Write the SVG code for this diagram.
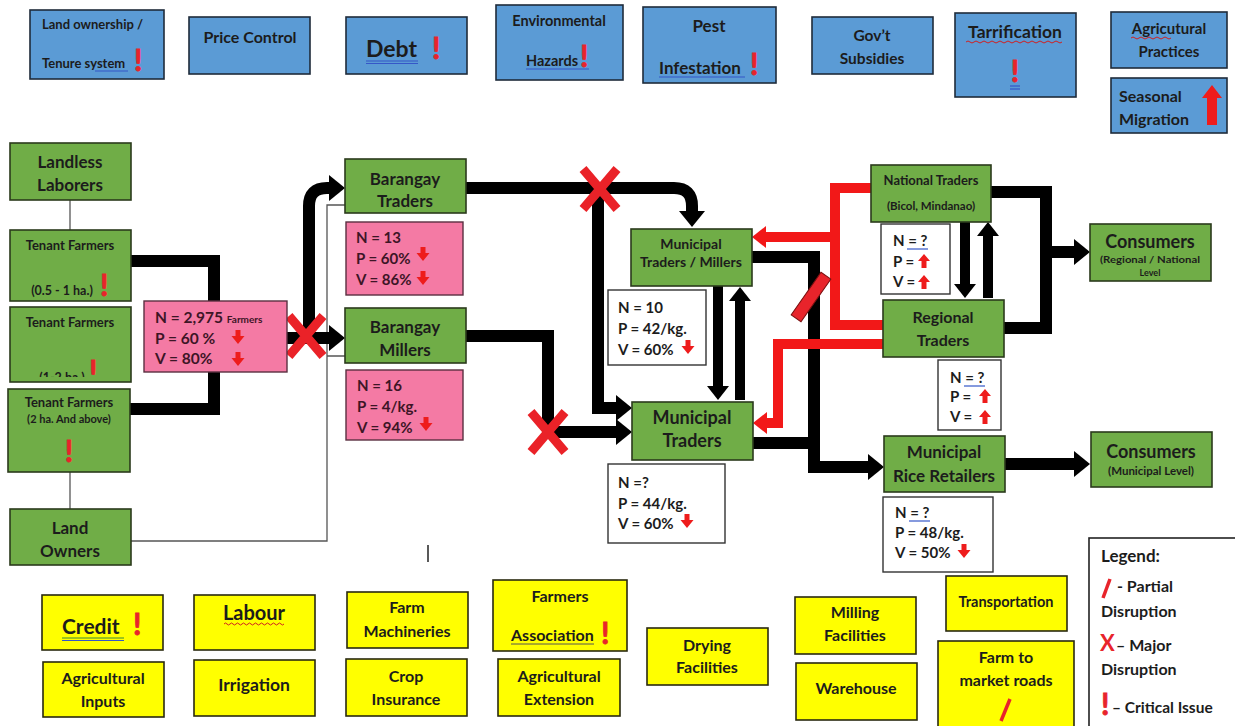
<svg xmlns="http://www.w3.org/2000/svg" width="1235" height="726" viewBox="0 0 1235 726">
<style>
text{font-family:Lato,"Liberation Sans","DejaVu Sans",sans-serif;font-weight:bold;fill:#1c1c1c}
.blue{fill:#5b9bd5;stroke:#1f2b3a;stroke-width:1.6}
.green{fill:#70ad47;stroke:#2b3a1c;stroke-width:1.6}
.pink{fill:#f47aa4;stroke:#5a3040;stroke-width:1.4}
.white{fill:#fff;stroke:#333;stroke-width:1.4}
.yel{fill:#ffff00;stroke:#2a2a10;stroke-width:1.6}
.c{text-anchor:middle}
.g{font-size:17px}
.y{font-size:16px}
.b{font-size:16px}
.t15{font-size:15px}
.t13{font-size:13px}
.pk{fill:#3d1526}
.bang{fill:#e8242b;stroke:#e8242b;stroke-width:0.8;font-size:30px}
.thick{fill:none;stroke:#000;stroke-width:12}
.mid{fill:none;stroke:#000;stroke-width:10}
.red{fill:none;stroke:#f21818;stroke-width:10}
.thin{fill:none;stroke:#555;stroke-width:1.3}
.xx{fill:none;stroke:#ea2228;stroke-width:9}
.arr{fill:#ee1c1c}
.ul{stroke:#3557c8;stroke-width:1.2}
.wavy{fill:none;stroke:#d02020;stroke-width:1}
</style>
<defs>
<marker id="ah" markerUnits="userSpaceOnUse" markerWidth="16" markerHeight="26" refX="0" refY="13" orient="auto"><path d="M0,0 L16,13 L0,26 Z" fill="#000"/></marker>
<marker id="ahs" markerUnits="userSpaceOnUse" markerWidth="14" markerHeight="22" refX="0" refY="11" orient="auto"><path d="M0,0 L14,11 L0,22 Z" fill="#000"/></marker>
<marker id="ahr" markerUnits="userSpaceOnUse" markerWidth="14" markerHeight="22" refX="0" refY="11" orient="auto"><path d="M0,0 L14,11 L0,22 Z" fill="#f21818"/></marker>
<path id="dn" d="M-2.5,-7 h5 v6 h4 l-6.5,8 l-6.5,-8 h4 z"/>
<path id="up" d="M0,-7 l6,7 h-3.5 v7 h-5 v-7 h-3.5 z"/>
<path id="x" d="M-17,-20 L17,20 M17,-20 L-17,20"/>
<clipPath id="clipTF2"><rect x="10" y="307" width="121" height="70"/></clipPath>
</defs>

<!-- top blue factors -->
<g id="land-ownership"><rect class="blue" x="30" y="10" width="134" height="69"/><text x="42" y="29" font-size="13">Land ownership /</text><text x="42" y="68" font-size="13">Tenure system</text><line class="ul" x1="95" y1="71" x2="128" y2="71"/><text class="bang" x="134" y="71">!</text></g>
<g id="price-control"><rect class="blue" x="189" y="17" width="121" height="57"/><text class="b c" x="250" y="43">Price Control</text></g>
<g id="debt"><rect class="blue" x="346" y="17" width="121" height="57"/><text x="366" y="57" font-size="23">Debt</text><line class="ul" x1="366" y1="61" x2="418" y2="61"/><line class="ul" x1="366" y1="63.5" x2="418" y2="63.5"/><text class="bang" x="432" y="59">!</text></g>
<g id="environmental-hazards"><rect class="blue" x="496" y="5" width="127" height="75"/><text class="c" x="559" y="26" font-size="14.5">Environmental</text><text x="526" y="66" font-size="14.5">Hazards</text><line class="ul" x1="526" y1="69" x2="589" y2="69"/><text class="bang" x="580" y="67" font-size="28">!</text></g>
<g id="pest-infestation"><rect class="blue" x="643" y="7" width="133" height="76"/><text class="c" x="709" y="32" font-size="17">Pest</text><text x="659" y="74" font-size="17">Infestation</text><line class="ul" x1="659" y1="77" x2="745" y2="77"/><text class="bang" x="750" y="75" font-size="32">!</text></g>
<g id="govt-subsidies"><rect class="blue" x="812" y="17" width="121" height="57"/><text class="c" x="872" y="41" font-size="15.5">Gov’t</text><text class="c" x="872" y="64" font-size="15.5">Subsidies</text></g>
<g id="tarrification"><rect class="blue" x="955" y="13" width="121" height="84"/><text class="c" x="1015" y="38" font-size="17.5">Tarrification</text><path class="wavy" d="M966,42 q2,-2 4,0 t4,0 t4,0 t4,0 t4,0 t4,0 t4,0 t4,0 t4,0 t4,0 t4,0 t4,0 t4,0 t4,0 t4,0 t4,0 t4,0 t4,0 t4,0 t4,0 t4,0 t4,0 t4,0 t4,0"/><text class="bang c" x="1015" y="82" font-size="34">!</text><line class="ul" x1="1010" y1="86" x2="1020" y2="86"/><line class="ul" x1="1010" y1="89" x2="1020" y2="89"/></g>
<g id="agricultural-practices"><rect class="blue" x="1111" y="12" width="116" height="56"/><text class="c" x="1169" y="34" font-size="15">Agricutural</text><path class="wavy" d="M1131,38 q2,-2 4,0 t4,0 t4,0 t4,0 t4,0 t4,0 t4,0 t4,0 t4,0 t4,0"/><text class="c" x="1169" y="57" font-size="15">Practices</text></g>
<g id="seasonal-migration"><rect class="blue" x="1111" y="78" width="116" height="55"/><text x="1119" y="102" font-size="16">Seasonal</text><text x="1119" y="125" font-size="16">Migration</text><path class="arr" d="M1212,85 l10,13 h-5 v27 h-10 v-27 h-5 z"/></g>

<!-- connectors -->
<g id="connectors">
<path class="thin" d="M70,200 V230"/>
<path class="thin" d="M70,472 V509"/>
<path class="thin" d="M131,541 H327 V205 H345 M327,356 H345"/>
<path class="thick" d="M131,261 H214 V301"/>
<path class="thick" d="M130,409 H214 V372"/>
<path class="thick" d="M287,338 H329" marker-end="url(#ah)"/>
<path class="thick" d="M309,338 V206 Q309,188 327,188 H329" marker-end="url(#ah)"/>
<path class="thick" d="M466,188 H674 Q692,188 692,206 V211" marker-end="url(#ah)"/>
<path class="thick" d="M598,190 V408 H616" marker-end="url(#ah)"/>
<path class="thick" d="M466,336 H548 V432 H616" marker-end="url(#ah)"/>
<path class="mid" d="M718,286 V386" marker-end="url(#ahs)"/>
<path class="mid" d="M740,400 V301" marker-end="url(#ahs)"/>
<path class="thick" d="M752,257 H814 V467 H868" marker-end="url(#ah)"/>
<path class="thick" d="M753,443 H814"/>
<path class="mid" d="M965,222 V284" marker-end="url(#ahs)"/>
<path class="mid" d="M988,298 V236" marker-end="url(#ahs)"/>
<path class="thick" d="M991,192 H1046 V328 H1004"/>
<path class="thick" d="M1046,252 H1074" marker-end="url(#ah)"/>
<path class="thick" d="M1005,464 H1074" marker-end="url(#ah)"/>
<path class="red" d="M871,188 H835 V325 H883"/>
<path class="red" d="M835,237 H766" marker-end="url(#ahr)"/>
<path class="red" d="M883,344 H778 V423 H767" marker-end="url(#ahr)"/>
<rect x="805" y="271" width="12" height="52" fill="#e8242b" stroke="#7a1010" stroke-width="1" transform="rotate(35 811 297)"/>
<use href="#x" class="xx" transform="translate(306,336)"/>
<use href="#x" class="xx" transform="translate(600,189)"/>
<use href="#x" class="xx" transform="translate(548,432)"/>
</g>

<!-- farmers -->
<g id="landless-laborers"><rect class="green" x="10" y="143" width="121" height="57"/><text class="g c" x="70" y="168">Landless</text><text class="g c" x="70" y="191">Laborers</text></g>
<g id="tenant-farmers-1"><rect class="green" x="10" y="230" width="121" height="71"/><text class="t13 c" x="70" y="250">Tenant Farmers</text><text class="c" x="62" y="295" font-size="12.5">(0.5 - 1 ha.)</text><text class="bang" x="100" y="296">!</text></g>
<g id="tenant-farmers-2"><rect class="green" x="10" y="307" width="121" height="75"/><text class="t13 c" x="70" y="327">Tenant Farmers</text><g clip-path="url(#clipTF2)"><text class="c" x="62" y="382" font-size="12.5">(1-2 ha.)</text><text class="bang" x="89" y="382">!</text></g></g>
<g id="tenant-farmers-3"><rect class="green" x="8" y="389" width="122" height="83"/><text class="t13 c" x="69" y="407">Tenant Farmers</text><text class="c" x="69" y="423" font-size="11">(2 ha. And above)</text><text class="bang c" x="69" y="462">!</text></g>
<g id="land-owners"><rect class="green" x="10" y="509" width="121" height="56"/><text class="g c" x="70" y="534">Land</text><text class="g c" x="70" y="557">Owners</text></g>
<g id="farmers-stats"><rect class="pink" x="144" y="301" width="143" height="71"/><text class="pk" x="155" y="323" font-size="15.5">N = 2,975 <tspan font-size="10">Farmers</tspan></text><text class="pk" x="155" y="344" font-size="15.5">P = 60 %</text><text class="pk" x="155" y="364" font-size="15.5">V = 80%</text><use href="#dn" class="arr" x="238" y="337"/><use href="#dn" class="arr" x="238" y="359"/></g>

<!-- barangay -->
<g id="barangay-traders"><rect class="green" x="345" y="159" width="121" height="54"/><text class="g c" x="405" y="185">Barangay</text><text class="g c" x="405" y="207">Traders</text></g>
<g id="barangay-traders-stats"><rect class="pink" x="346" y="222" width="117" height="73"/><text class="t15 pk" x="356" y="243">N = 13</text><text class="t15 pk" x="356" y="264">P = 60%</text><text class="t15 pk" x="356" y="285">V = 86%</text><use href="#dn" class="arr" x="423" y="254"/><use href="#dn" class="arr" x="423" y="278"/></g>
<g id="barangay-millers"><rect class="green" x="345" y="308" width="121" height="55"/><text class="g c" x="405" y="333">Barangay</text><text class="g c" x="405" y="356">Millers</text></g>
<g id="barangay-millers-stats"><rect class="pink" x="346" y="370" width="117" height="70"/><text class="t15 pk" x="357" y="391">N = 16</text><text class="t15 pk" x="357" y="412">P = 4/kg.</text><text class="t15 pk" x="357" y="433">V = 94%</text><use href="#dn" class="arr" x="426" y="424"/></g>

<!-- municipal -->
<g id="municipal-traders-millers"><rect class="green" x="631" y="229" width="121" height="57"/><text class="c" x="691" y="249" font-size="14">Municipal</text><text class="c" x="691" y="267" font-size="14">Traders / Millers</text></g>
<g id="mtm-stats"><rect class="white" x="608" y="290" width="98" height="75"/><text class="t15" x="618" y="313">N = 10</text><text class="t15" x="618" y="334">P = 42/kg.</text><text class="t15" x="618" y="355">V = 60%</text><use href="#dn" class="arr" x="688" y="347"/></g>
<g id="municipal-traders"><rect class="green" x="632" y="402" width="121" height="58"/><text class="c" x="692" y="424" font-size="18">Municipal</text><text class="c" x="692" y="447" font-size="18">Traders</text></g>
<g id="mt-stats"><rect class="white" x="608" y="464" width="117" height="79"/><text class="t15" x="618" y="488">N =?</text><text class="t15" x="618" y="509">P = 44/kg.</text><text class="t15" x="618" y="529">V = 60%</text><use href="#dn" class="arr" x="687" y="521"/></g>

<!-- national / regional -->
<g id="national-traders"><rect class="green" x="871" y="165" width="120" height="57"/><text class="t13 c" x="931" y="185">National Traders</text><text class="c" x="931" y="210" font-size="11.5">(Bicol, Mindanao)</text></g>
<g id="nt-stats"><rect class="white" x="881" y="224" width="69" height="70"/><text class="t15" x="893" y="246">N = ?</text><line class="ul" x1="907" y1="249" x2="928" y2="249"/><text class="t15" x="893" y="267">P =</text><text class="t15" x="893" y="287">V =</text><use href="#up" class="arr" x="924" y="261"/><use href="#up" class="arr" x="924" y="282"/></g>
<g id="regional-traders"><rect class="green" x="883" y="300" width="121" height="57"/><text class="c" x="943" y="323" font-size="16">Regional</text><text class="c" x="943" y="346" font-size="16">Traders</text></g>
<g id="rt-stats"><rect class="white" x="938" y="360" width="63" height="70"/><text class="t15" x="950" y="383">N = ?</text><line class="ul" x1="964" y1="386" x2="985" y2="386"/><text class="t15" x="950" y="402">P =</text><text class="t15" x="950" y="422">V =</text><use href="#up" class="arr" x="985" y="396"/><use href="#up" class="arr" x="985" y="417"/></g>
<g id="consumers-regional"><rect class="green" x="1090" y="224" width="121" height="57"/><text class="c" x="1150" y="248" font-size="18">Consumers</text><text class="c" x="1150" y="263" font-size="9" textLength="100" lengthAdjust="spacingAndGlyphs">(Regional / National</text><text class="c" x="1150" y="276" font-size="9">Level</text></g>
<g id="municipal-rice-retailers"><rect class="green" x="884" y="436" width="121" height="56"/><text class="g c" x="944" y="458">Municipal</text><text class="g c" x="944" y="482">Rice Retailers</text></g>
<g id="mrr-stats"><rect class="white" x="883" y="497" width="110" height="75"/><text class="t15" x="895" y="518">N = ?</text><line class="ul" x1="909" y1="521" x2="930" y2="521"/><text class="t15" x="895" y="538">P = 48/kg.</text><text class="t15" x="895" y="558">V = 50%</text><use href="#dn" class="arr" x="964" y="551"/></g>
<g id="consumers-municipal"><rect class="green" x="1091" y="432" width="121" height="55"/><text class="c" x="1151" y="458" font-size="18">Consumers</text><text class="c" x="1151" y="475" font-size="11.5">(Municipal Level)</text></g>

<line x1="428" y1="545" x2="428" y2="562" stroke="#222" stroke-width="1.5"/>

<!-- bottom yellow factors -->
<g id="credit"><rect class="yel" x="42" y="595" width="121" height="55"/><text x="62" y="634" font-size="21">Credit</text><line x1="62" y1="638" x2="124" y2="638" stroke="#3a8a3a" stroke-width="1.2"/><line x1="62" y1="640.5" x2="124" y2="640.5" stroke="#3557c8" stroke-width="1.2"/><text class="bang" x="133" y="635">!</text></g>
<g id="agricultural-inputs"><rect class="yel" x="43" y="662" width="121" height="55"/><text class="y c" x="103" y="684">Agricultural</text><text class="y c" x="103" y="707">Inputs</text></g>
<g id="labour"><rect class="yel" x="194" y="595" width="121" height="55"/><text class="c" x="254" y="620" font-size="20">Labour</text><path class="wavy" d="M224,624 q1.5,-2 3,0 t3,0 t3,0 t3,0 t3,0 t3,0 t3,0 t3,0 t3,0 t3,0 t3,0 t3,0 t3,0 t3,0 t3,0 t3,0 t3,0 t3,0 t3,0 t3,0"/></g>
<g id="irrigation"><rect class="yel" x="194" y="660" width="121" height="56"/><text class="c" x="254" y="691" font-size="17.5">Irrigation</text></g>
<g id="farm-machineries"><rect class="yel" x="347" y="592" width="121" height="56"/><text class="y c" x="407" y="613">Farm</text><text class="y c" x="407" y="637">Machineries</text></g>
<g id="crop-insurance"><rect class="yel" x="346" y="659" width="121" height="57"/><text class="y c" x="406" y="682">Crop</text><text class="y c" x="406" y="705">Insurance</text></g>
<g id="farmers-association"><rect class="yel" x="493" y="580" width="134" height="71"/><text class="y c" x="560" y="602">Farmers</text><text class="y" x="511" y="641">Association</text><line x1="511" y1="644" x2="594" y2="644" stroke="#555" stroke-width="1"/><text class="bang" x="601" y="644">!</text></g>
<g id="agricultural-extension"><rect class="yel" x="498" y="659" width="122" height="57"/><text class="y c" x="559" y="682">Agricultural</text><text class="y c" x="559" y="705">Extension</text></g>
<g id="drying-facilities"><rect class="yel" x="647" y="628" width="121" height="57"/><text class="y c" x="707" y="651">Drying</text><text class="y c" x="707" y="673">Facilities</text></g>
<g id="milling-facilities"><rect class="yel" x="795" y="597" width="121" height="57"/><text class="y c" x="855" y="618">Milling</text><text class="y c" x="855" y="641">Facilities</text></g>
<g id="warehouse"><rect class="yel" x="796" y="663" width="121" height="57"/><text class="y c" x="856" y="694">Warehouse</text></g>
<g id="transportation"><rect class="yel" x="946" y="576" width="121" height="55"/><text class="c" x="1006" y="607" font-size="14.5">Transportation</text></g>
<g id="farm-to-market-roads"><rect class="yel" x="938" y="641" width="136" height="92"/><text class="y c" x="1006" y="663">Farm to</text><text class="y c" x="1006" y="686">market roads</text><line x1="1001" y1="721" x2="1010" y2="699" stroke="#e8242b" stroke-width="3.5"/></g>

<g id="legend"><rect x="1089" y="538" width="150" height="200" fill="#fff" stroke="#222" stroke-width="1.6"/>
<text x="1101" y="562" font-size="17">Legend:</text>
<line x1="1103" y1="598" x2="1110" y2="579" stroke="#e8242b" stroke-width="3.5"/>
<text x="1117" y="592" font-size="16">- Partial</text>
<text x="1101" y="617" font-size="16">Disruption</text>
<text x="1100" y="651" font-size="22" style="fill:#e8242b">X</text>
<text x="1116" y="651" font-size="16">– Major</text>
<text x="1101" y="675" font-size="16">Disruption</text>
<text class="bang" x="1101" y="715">!</text>
<text x="1112" y="713" font-size="15.5">– Critical Issue</text>
</g>
</svg>
